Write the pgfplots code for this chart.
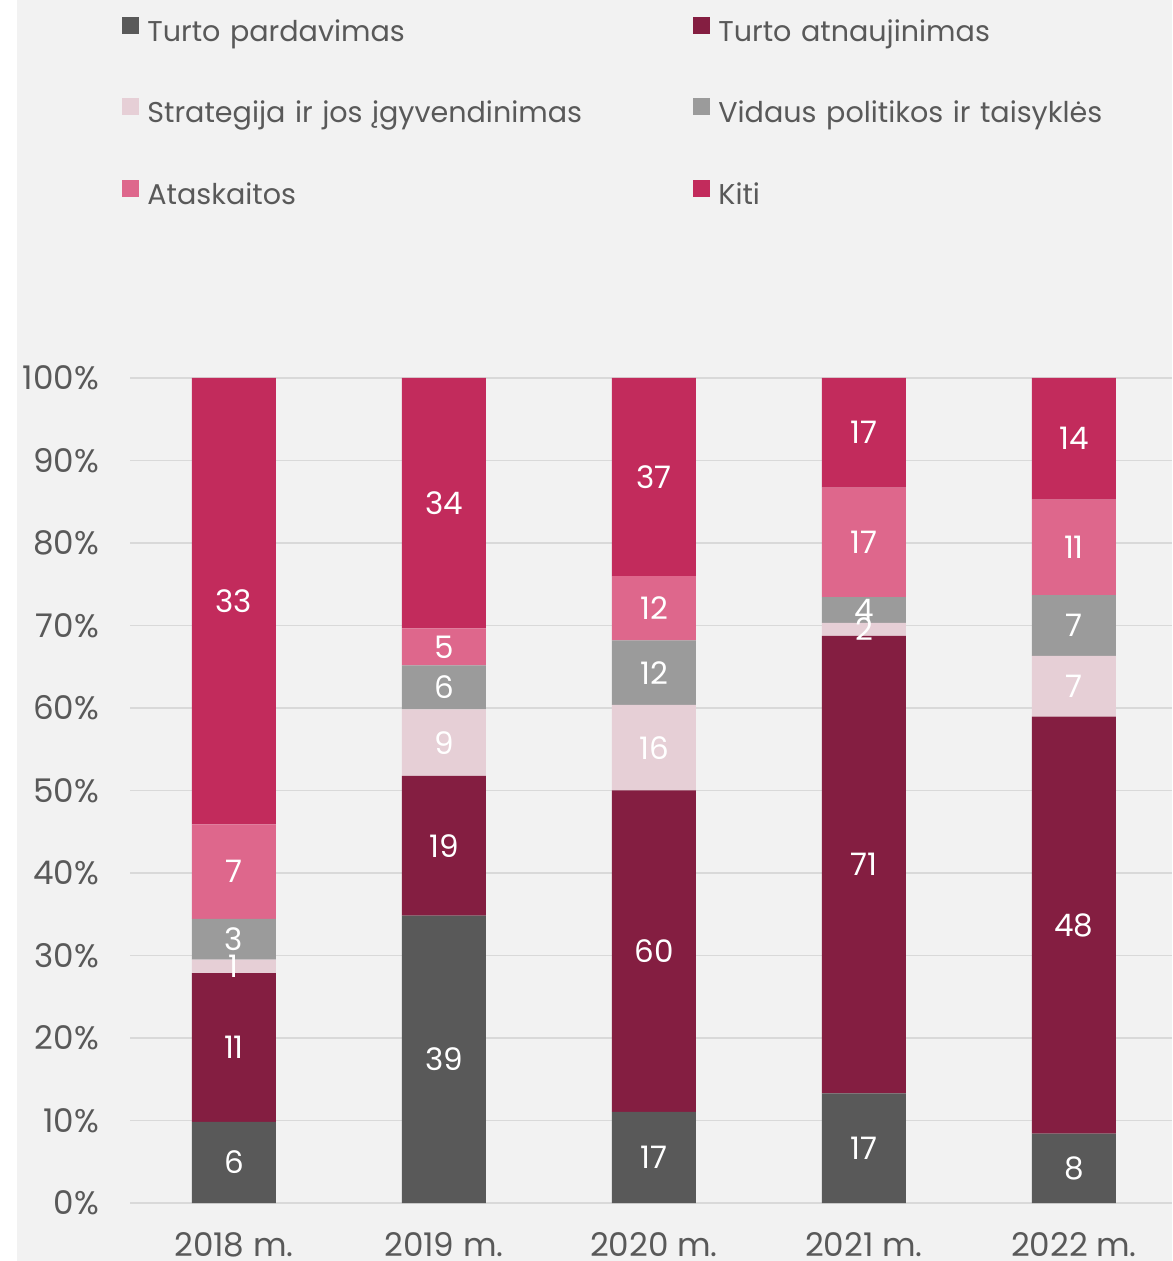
\documentclass[border=0pt]{standalone}
\usepackage{pgfplots}
\pgfplotsset{compat=1.18}
\usepackage{pgfplotstable}
\usepackage{fontspec}
\setmainfont{Poppins}
\definecolor{bg}{HTML}{F2F2F2}
\definecolor{txt}{HTML}{595959}
\definecolor{cA}{HTML}{595959}
\definecolor{cB}{HTML}{841E41}
\definecolor{cC}{HTML}{E6CFD6}
\definecolor{cD}{HTML}{9B9B9B}
\definecolor{cE}{HTML}{DE678C}
\definecolor{cF}{HTML}{C22B5C}
\definecolor{gridc}{HTML}{D9D9D9}
% percentages of each year's total, and the counts shown on the bars
\pgfplotstableread{
x pA pB pC pD pE pF cA cB cC cD cE cF
0 9.836 18.033 1.639 4.918 11.475 54.098 6 11 1 3 7 33
1 34.821 16.964 8.036 5.357 4.464 30.357 39 19 9 6 5 34
2 11.039 38.961 10.390 7.792 7.792 24.026 17 60 16 12 12 37
3 13.281 55.469 1.563 3.125 13.281 13.281 17 71 2 4 17 17
4 8.421 50.526 7.368 7.368 11.579 14.737 8 48 7 7 11 14
}\datatable
\pgfplotsset{
  barcol/.style={draw=none, fill=#1,
    legend image code/.code={\fill[#1] (0pt,0.3pt) rectangle (8.5pt,8.8pt);}},
}
\begin{document}
\begin{tikzpicture}
\useasboundingbox (0,0) rectangle (586pt,630.5pt);
\fill[white] (0,0) rectangle (586pt,630.5pt);
\fill[bg] (8.5pt,0) rectangle (586pt,630.5pt);
\begin{scope}
\clip (0,0) rectangle (586pt,630.5pt);
\begin{axis}[
  at={(65pt,29pt)}, anchor=south west,
  scale only axis, width=521pt, height=412.5pt,
  ybar stacked, bar width=0.4,
  xmin=-0.495, xmax=4.467, ymin=0, ymax=100,
  xtick={0,1,2,3,4},
  xticklabels={2018 m.,2019 m.,2020 m.,2021 m.,2022 m.},
  ytick={0,10,...,100},
  yticklabel={\pgfmathprintnumber{\tick}\%},
  axis line style={draw=none},
  major tick length=0pt,
  ymajorgrids, major grid style={gridc, line width=0.9pt},
  tick label style={font=\fontsize{16.3pt}{19pt}\selectfont, text=txt},
  xticklabel style={yshift=-11pt},
  yticklabel style={xshift=-12pt},
  /pgf/number format/assume math mode=true,
  point meta=explicit,
  nodes near coords,
  every node near coord/.append style={anchor=center, text=white,
    font=\fontsize{15.5pt}{18pt}\selectfont},
  legend columns=2,
  legend cell align=left,
  legend style={at={(-0.0077,1.44)}, anchor=north west, draw=none, fill=none,
    font=\fontsize{14.3pt}{17pt}\selectfont, text=txt, inner sep=0pt,
    row sep=21.75pt, column sep=2pt,
    nodes={inner sep=2pt, text height=11pt, text depth=4pt, text width=269pt, align=left}},
]
\addplot[barcol=cA] table[x=x,y=pA,meta=cA]{\datatable};
\addplot[barcol=cB] table[x=x,y=pB,meta=cB]{\datatable};
\addplot[barcol=cC] table[x=x,y=pC,meta=cC]{\datatable};
\addplot[barcol=cD] table[x=x,y=pD,meta=cD]{\datatable};
\addplot[barcol=cE] table[x=x,y=pE,meta=cE]{\datatable};
\addplot[barcol=cF] table[x=x,y=pF,meta=cF]{\datatable};
\legend{Turto pardavimas,Turto atnaujinimas,Strategija ir jos įgyvendinimas,Vidaus politikos ir taisyklės,Ataskaitos,Kiti}
\end{axis}
\end{scope}
\end{tikzpicture}
\end{document}
